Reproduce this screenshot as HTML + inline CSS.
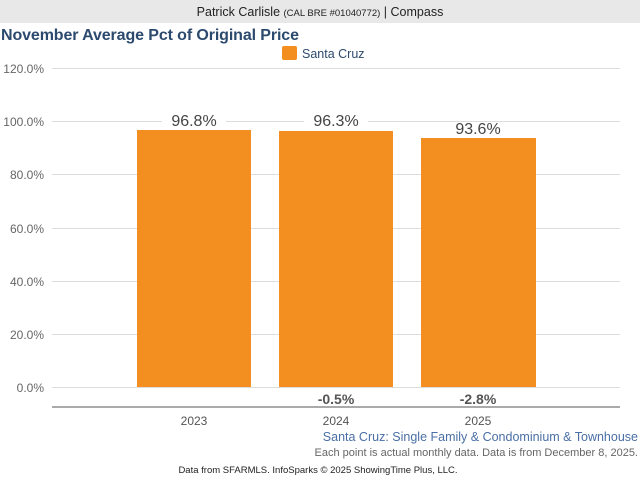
<!DOCTYPE html>
<html><head><style>
body{margin:0;width:640px;height:480px;background:#fff;overflow:hidden;font-family:"Liberation Sans",sans-serif}
</style></head><body>
<svg width="640" height="480" xmlns="http://www.w3.org/2000/svg" font-family="Liberation Sans, sans-serif">
<rect x="0" y="0" width="640" height="23" fill="#e8e8e8"/>
<text x="320" y="16" text-anchor="middle" font-size="12.5" fill="#222">Patrick Carlisle <tspan font-size="9.5">(CAL BRE #01040772)</tspan> | Compass</text>
<text x="1" y="40" font-size="16" font-weight="bold" fill="#2c4a6e" textLength="298">November Average Pct of Original Price</text>
<rect x="282" y="46" width="15" height="14" rx="2" fill="#f28f20"/>
<text x="302" y="58" font-size="12.5" fill="#2c4a6e">Santa Cruz</text>
<g stroke="#ddd" stroke-width="1">
<line x1="52" x2="620" y1="68.5" y2="68.5"/><line x1="52" x2="620" y1="121.5" y2="121.5"/>
<line x1="52" x2="620" y1="174.5" y2="174.5"/><line x1="52" x2="620" y1="228.5" y2="228.5"/>
<line x1="52" x2="620" y1="281.5" y2="281.5"/><line x1="52" x2="620" y1="334.5" y2="334.5"/>
<line x1="52" x2="620" y1="387.5" y2="387.5"/>
</g>
<g font-size="12" fill="#666" text-anchor="end">
<text x="44" y="73">120.0%</text><text x="44" y="126">100.0%</text><text x="44" y="179">80.0%</text>
<text x="44" y="233">60.0%</text><text x="44" y="286">40.0%</text><text x="44" y="339">20.0%</text>
<text x="44" y="392">0.0%</text>
</g>
<g fill="#f28f20">
<rect x="137" y="130" width="114" height="257"/>
<rect x="279" y="131" width="114" height="256"/>
<rect x="421" y="138" width="115" height="249"/>
</g>
<g font-size="16" fill="#444" text-anchor="middle">
<rect x="162" y="110" width="64" height="18" fill="#fff"/>
<rect x="304" y="110" width="64" height="18" fill="#fff"/>
<text x="194" y="126">96.8%</text><text x="336" y="126">96.3%</text><text x="478" y="134">93.6%</text>
</g>
<line x1="52" x2="620" y1="407" y2="407" stroke="#555" stroke-width="1"/>
<g font-size="14" font-weight="bold" fill="#555" text-anchor="middle">
<text x="336" y="404">-0.5%</text><text x="478" y="404">-2.8%</text>
</g>
<g font-size="12" fill="#555" text-anchor="middle">
<text x="194" y="425">2023</text><text x="336" y="425">2024</text><text x="478" y="425">2025</text>
</g>
<text x="638" y="441" text-anchor="end" font-size="12.5" fill="#4a6fa5">Santa Cruz: Single Family &amp; Condominium &amp; Townhouse</text>
<text x="638" y="456" text-anchor="end" font-size="11" fill="#666">Each point is actual monthly data. Data is from December 8, 2025.</text>
<text x="318" y="473" text-anchor="middle" font-size="9.5" fill="#222">Data from SFARMLS. InfoSparks © 2025 ShowingTime Plus, LLC.</text>
</svg>
</body></html>
